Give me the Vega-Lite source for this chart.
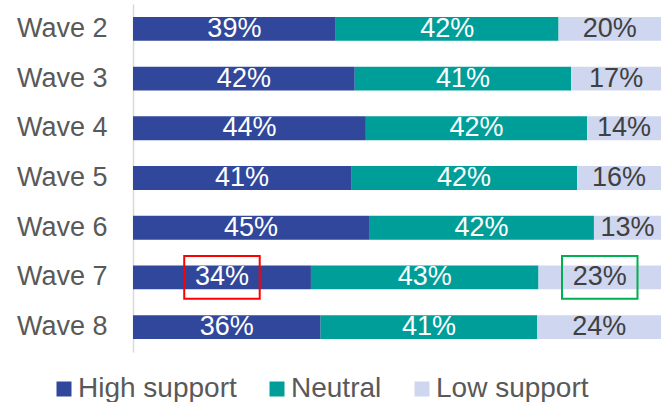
{
  "$schema": "https://vega.github.io/schema/vega-lite/v6.json",
  "width": 528,
  "height": 348,
  "autosize": {"type": "none"},
  "padding": {"left": 133, "top": 4, "right": 0, "bottom": 50},
  "background": "white",
  "config": {
    "view": {"stroke": null},
    "font": "Liberation Sans"
  },
  "data": {
    "values": [
      {"wave": "Wave 2", "category": "High support", "value": 38.4, "label": "39%"},
      {"wave": "Wave 2", "category": "Neutral", "value": 42.2, "label": "42%"},
      {"wave": "Wave 2", "category": "Low support", "value": 19.4, "label": "20%"},
      {"wave": "Wave 3", "category": "High support", "value": 42.0, "label": "42%"},
      {"wave": "Wave 3", "category": "Neutral", "value": 41.0, "label": "41%"},
      {"wave": "Wave 3", "category": "Low support", "value": 17.0, "label": "17%"},
      {"wave": "Wave 4", "category": "High support", "value": 44.1, "label": "44%"},
      {"wave": "Wave 4", "category": "Neutral", "value": 41.9, "label": "42%"},
      {"wave": "Wave 4", "category": "Low support", "value": 14.0, "label": "14%"},
      {"wave": "Wave 5", "category": "High support", "value": 41.3, "label": "41%"},
      {"wave": "Wave 5", "category": "Neutral", "value": 42.8, "label": "42%"},
      {"wave": "Wave 5", "category": "Low support", "value": 15.9, "label": "16%"},
      {"wave": "Wave 6", "category": "High support", "value": 44.7, "label": "45%"},
      {"wave": "Wave 6", "category": "Neutral", "value": 42.6, "label": "42%"},
      {"wave": "Wave 6", "category": "Low support", "value": 12.7, "label": "13%"},
      {"wave": "Wave 7", "category": "High support", "value": 33.7, "label": "34%", "highlight": "a"},
      {"wave": "Wave 7", "category": "Neutral", "value": 43.1, "label": "43%"},
      {"wave": "Wave 7", "category": "Low support", "value": 23.2, "label": "23%", "highlight": "b"},
      {"wave": "Wave 8", "category": "High support", "value": 35.5, "label": "36%"},
      {"wave": "Wave 8", "category": "Neutral", "value": 41.0, "label": "41%"},
      {"wave": "Wave 8", "category": "Low support", "value": 23.4, "label": "24%"}
    ]
  },
  "transform": [
    {"calculate": "indexof(['High support','Neutral','Low support'], datum.category)", "as": "rank"},
    {"stack": "value", "groupby": ["wave"], "sort": [{"field": "rank", "order": "ascending"}], "offset": "normalize", "as": ["x0", "x1"]},
    {"calculate": "(datum.x0 + datum.x1) / 2", "as": "xm"}
  ],
  "encoding": {
    "y": {
      "field": "wave",
      "type": "nominal",
      "sort": "ascending",
      "scale": {"paddingInner": 0.52, "paddingOuter": 0.26},
      "axis": {
        "title": null,
        "ticks": false,
        "labelFontSize": 27,
        "labelColor": "#595959",
        "labelPadding": 26,
        "domainColor": "#D9D9D9",
        "domainWidth": 1.5,
        "grid": false
      }
    }
  },
  "layer": [
    {
      "mark": {"type": "bar"},
      "encoding": {
        "x": {"field": "x0", "type": "quantitative", "scale": {"domain": [0, 1], "nice": false}, "axis": null},
        "x2": {"field": "x1"},
        "color": {
          "field": "category",
          "type": "nominal",
          "scale": {"domain": ["High support", "Neutral", "Low support"], "range": ["#31479B", "#009E99", "#CFD6EF"]},
          "legend": {
            "title": null,
            "orient": "none",
            "direction": "horizontal",
            "legendX": -83,
            "legendY": 371,
            "symbolType": "square",
            "symbolSize": 225,
            "symbolStrokeWidth": 0,
            "labelFontSize": 28,
            "labelColor": "#595959",
            "labelOffset": 0,
            "columnPadding": 26,
            "padding": 0
          }
        }
      }
    },
    {
      "mark": {"type": "text", "fontSize": 27, "baseline": "middle", "align": "center"},
      "encoding": {
        "x": {"field": "xm", "type": "quantitative"},
        "text": {"field": "label"},
        "color": {
          "condition": {"test": "datum.category === 'Low support'", "value": "#404040"},
          "value": "#FFFFFF"
        }
      }
    },
    {
      "transform": [{"filter": "isValid(datum.highlight)"}],
      "mark": {
        "type": "point",
        "shape": "M-1,-0.565L1,-0.565L1,0.565L-1,0.565Z",
        "filled": false,
        "size": 5700,
        "strokeWidth": 2,
        "opacity": 1
      },
      "encoding": {
        "x": {"field": "xm", "type": "quantitative"},
        "stroke": {
          "field": "highlight",
          "type": "nominal",
          "scale": {"domain": ["a", "b"], "range": ["#FF0000", "#00B050"]},
          "legend": null
        }
      }
    }
  ]
}
